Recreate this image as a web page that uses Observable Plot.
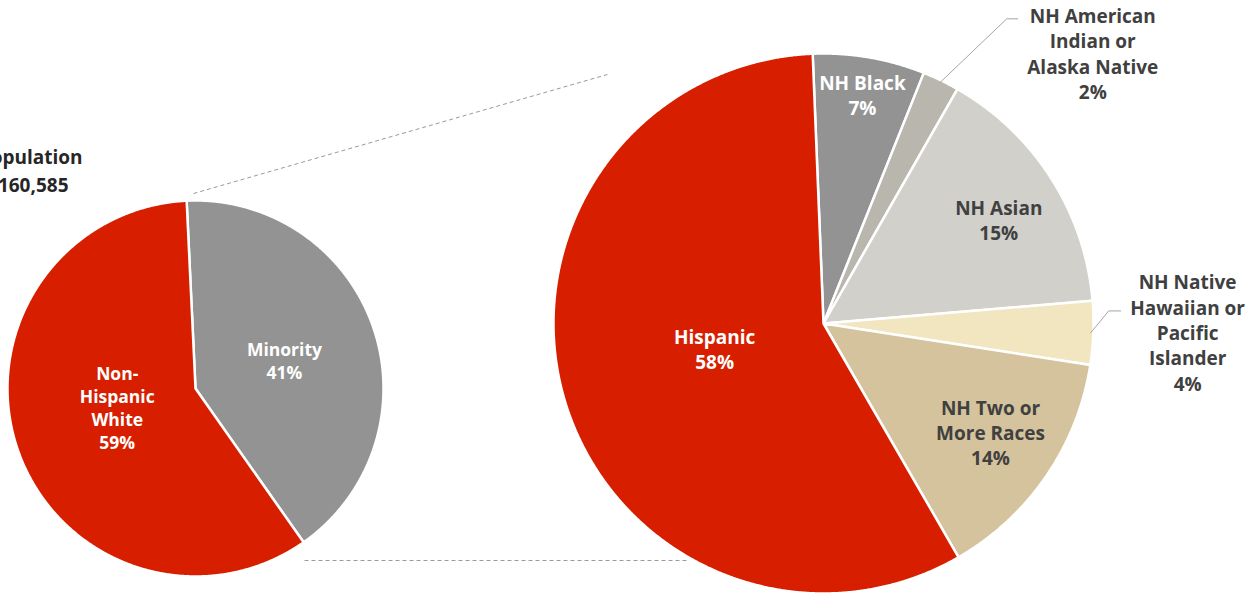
<!DOCTYPE html>
<html>
<head>
<meta charset="utf-8">
<script src="https://cdn.jsdelivr.net/npm/d3@7"></script>
<script src="https://cdn.jsdelivr.net/npm/@observablehq/plot@0.6"></script>
<style>
  html, body { margin: 0; padding: 0; background: #fff; }
  #chart svg { display: block; }
</style>
</head>
<body>
<div id="chart"></div>
<script>
// ---- data ----
const leftCats = ["Minority", "Non-Hispanic White"];
const leftValues = [41, 59];
const leftLabels = ["Minority\n41%", "Non-\nHispanic\nWhite\n59%"];

const rightCats = ["NH Black", "NH American Indian or Alaska Native", "NH Asian",
  "NH Native Hawaiian or Pacific Islander", "NH Two or More Races", "Hispanic"];
const rightValues = [6.7, 2.2, 15.4, 3.8, 14.2, 57.7];
const rightLabels = ["NH Black\n7%", "NH American\nIndian or\nAlaska Native\n2%", "NH Asian\n15%",
  "NH Native\nHawaiian or\nPacific\nIslander\n4%", "NH Two or\nMore Races\n14%", "Hispanic\n58%"];

const totalLabel = ["Total Population", "1,160,585"];

// ---- styles / layout ----
const colorDomain = [...leftCats, ...rightCats];
const colorRange = ["#939393", "#d71f00", "#939393", "#b8b6ad", "#d1d0cb", "#f1e6c0", "#d4c39c", "#d71f00"];
const FONT = "'Open Sans', sans-serif";

const leftPie = {cx: 195, cy: 388, r: 188, start: -2.7};
const rightPie = {cx: 823, cy: 323, r: 270, start: -2.3};
const leftLabelR = [0.5, 0.44];
const leftLabelDy = [2, -8];
const leftLabelColor = ["#fff", "#fff"];
const rightLabelR = [0.85, null, 0.77, null, 0.75, 0.42];
const rightLabelDy = [-3, 0, 8, 0, -6, -7];
const rightLabelColor = ["#fff", "#404040", "#404040", "#404040", "#404040", "#fff"];
const outside = {
  1: {elbow: [67, -64], tail: 11, text: [75, 34]},
  3: {elbow: [18, -22], tail: 12, text: [67, 21]}
};

const rad = d => d * Math.PI / 180;
function pt(p, ang, r) {
  return {x: p.cx + r * Math.sin(rad(ang)), y: p.cy - r * Math.cos(rad(ang))};
}

function build(p, cats, vals) {
  const total = d3.sum(vals);
  let a = p.start;
  const polys = [], slices = [];
  cats.forEach((c, i) => {
    const a0 = a, a1 = a + vals[i] / total * 360;
    polys.push({cat: c, ...pt(p, 0, 0)});
    const n = Math.max(2, Math.ceil((a1 - a0) / 0.25));
    for (let k = 0; k <= n; k++) polys.push({cat: c, ...pt(p, a0 + (a1 - a0) * k / n, p.r)});
    polys.push({cat: c, ...pt(p, 0, 0)});
    slices.push({cat: c, i, a0, a1, mid: (a0 + a1) / 2});
    a = a1;
  });
  return {polys, slices};
}

const L = build(leftPie, leftCats, leftValues);
const R = build(rightPie, rightCats, rightValues);

const leftIn = L.slices.map(s => {
  const q = pt(leftPie, s.mid, leftPie.r * leftLabelR[s.i]);
  return {text: leftLabels[s.i], color: leftLabelColor[s.i], x: q.x, y: q.y + leftLabelDy[s.i]};
});
const rightIn = R.slices.filter(s => rightLabelR[s.i] != null).map(s => {
  const q = pt(rightPie, s.mid, rightPie.r * rightLabelR[s.i]);
  return {text: rightLabels[s.i], color: rightLabelColor[s.i], x: q.x, y: q.y + rightLabelDy[s.i]};
});

const leaders = [], outLabels = [];
R.slices.forEach(s => {
  const o = outside[s.i];
  if (!o) return;
  const p0 = pt(rightPie, s.mid, rightPie.r * 0.99);
  const p1 = {x: p0.x + o.elbow[0], y: p0.y + o.elbow[1]};
  const p2 = {x: p1.x + o.tail, y: p1.y};
  leaders.push({k: s.i, ...p0}, {k: s.i, ...p1}, {k: s.i, ...p2});
  outLabels.push({text: rightLabels[s.i], x: p2.x + o.text[0], y: p1.y + o.text[1]});
});

const connectors = [
  {x1: 193, y1: 193, x2: 607, y2: 74},
  {x1: 304, y1: 560, x2: 687, y2: 560}
];

const chart = Plot.plot({
  width: 1260, height: 594,
  margin: 0,
  x: {domain: [0, 1260], range: [0, 1260], axis: null},
  y: {domain: [0, 594], range: [0, 594], axis: null},
  color: {domain: colorDomain, range: colorRange},
  style: {fontFamily: FONT, background: "#fff"},
  marks: [
    Plot.link(connectors, {x1: "x1", y1: "y1", x2: "x2", y2: "y2", stroke: "#9a9a9a", strokeWidth: 1, strokeDasharray: "4,3"}),
    Plot.line(L.polys, {x: "x", y: "y", z: "cat", fill: "cat", stroke: "white", strokeWidth: 2.5, strokeLinejoin: "round"}),
    Plot.line(R.polys, {x: "x", y: "y", z: "cat", fill: "cat", stroke: "white", strokeWidth: 2.5, strokeLinejoin: "round"}),
    Plot.line(leaders, {x: "x", y: "y", z: "k", stroke: "#a6a6a6", strokeWidth: 1}),
    Plot.text(leftIn, {x: "x", y: "y", text: "text", fill: d => d.color, fontSize: 17.5, lineHeight: 1.31, fontWeight: "bold"}),
    Plot.text(rightIn, {x: "x", y: "y", text: "text", fill: d => d.color, fontSize: 19, lineHeight: 1.33, fontWeight: "bold"}),
    Plot.text(outLabels, {x: "x", y: "y", text: "text", fill: "#404040", fontSize: 19, lineHeight: 1.33, fontWeight: "bold"}),
    Plot.text([totalLabel[0]], {x: () => 82, y: () => 157, text: d => d, textAnchor: "end", fill: "#262626", fontSize: 19, fontWeight: "bold"}),
    Plot.text([totalLabel[1]], {x: () => 68, y: () => 185, text: d => d, textAnchor: "end", fill: "#262626", fontSize: 19, fontWeight: "bold"})
  ]
});
document.getElementById("chart").appendChild(chart);
</script>
</body>
</html>
